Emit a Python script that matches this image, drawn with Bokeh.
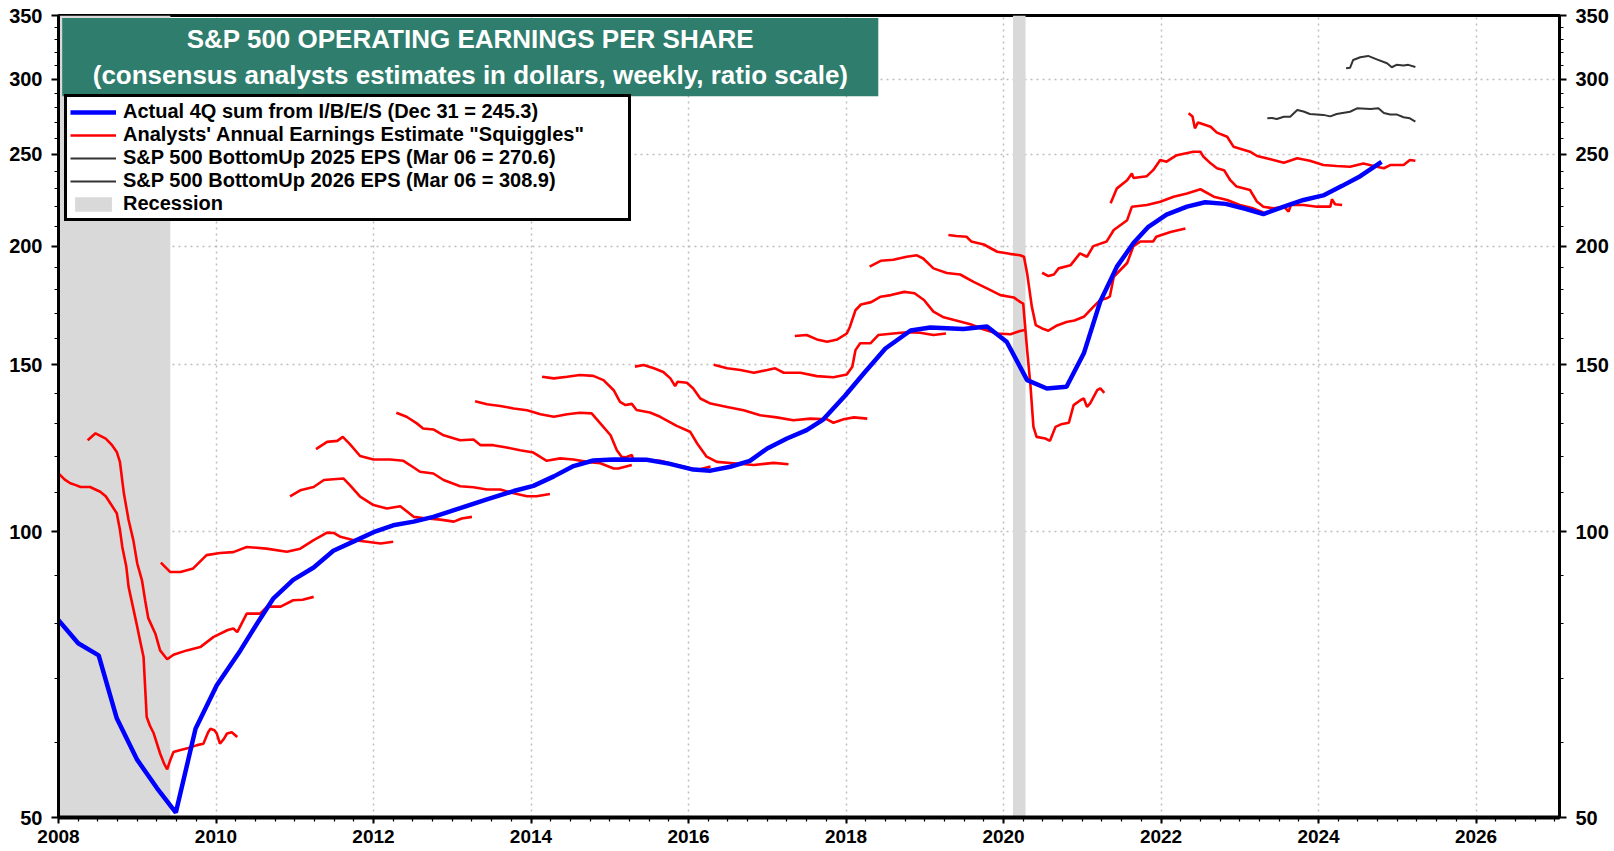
from bokeh.plotting import figure
from bokeh.models import (Range1d, FixedTicker, LogAxis, PrintfTickFormatter,
                          BoxAnnotation, Label, Legend, LegendItem)
from bokeh.embed import file_html
from bokeh.resources import INLINE

FONT = "Liberation Sans"

# ---------------- data ----------------
x_ticks = [2008, 2010, 2012, 2014, 2016, 2018, 2020, 2022, 2024, 2026]
y_ticks = [50, 100, 150, 200, 250, 300, 350]

rec_start = [2007.92, 2020.12]
rec_end = [2009.42, 2020.28]

act_t = [2008.00, 2008.25, 2008.51, 2008.74, 2009.00, 2009.25, 2009.49, 2009.74, 2010.01, 2010.31,
         2010.52, 2010.73, 2010.98, 2011.24, 2011.49, 2011.75, 2012.00, 2012.25, 2012.51, 2012.76,
         2013.10, 2013.44, 2013.78, 2014.03, 2014.29, 2014.54, 2014.79, 2015.05, 2015.47, 2015.75,
         2016.06, 2016.28, 2016.53, 2016.78, 2017.00, 2017.25, 2017.50, 2017.71, 2017.99, 2018.23,
         2018.50, 2018.82, 2019.07, 2019.49, 2019.79, 2020.04, 2020.30, 2020.55, 2020.80, 2021.02,
         2021.23, 2021.44, 2021.65, 2021.84, 2022.07, 2022.33, 2022.56, 2022.82, 2023.07, 2023.30,
         2023.56, 2023.81, 2024.06, 2024.30, 2024.53, 2024.80]
act_v = [80.7, 76.3, 74.1, 63.6, 57.5, 53.7, 50.6, 62.0, 68.9, 75.0,
         80.0, 85.1, 89.0, 91.7, 95.5, 97.7, 99.9, 101.6, 102.5, 103.7,
         105.9, 108.2, 110.4, 111.8, 114.4, 117.3, 118.9, 119.2, 119.1, 118.0,
         116.3, 116.0, 117.1, 118.8, 122.4, 125.4, 128.0, 131.3, 139.2, 147.0,
         156.0, 163.0, 164.2, 163.6, 164.6, 158.6, 144.5, 141.6, 142.2, 154.2,
         175.0, 190.3, 201.5, 209.6, 215.9, 220.1, 222.5, 221.6, 219.0, 216.2,
         220.1, 223.7, 226.2, 231.5, 237.0, 245.4]

est_2009_t = [2008.00, 2008.08, 2008.15, 2008.22, 2008.28, 2008.40, 2008.53, 2008.60, 2008.66, 2008.74,
              2008.78, 2008.81, 2008.86, 2008.89, 2008.95, 2009.00, 2009.04, 2009.08, 2009.12, 2009.16,
              2009.21, 2009.29, 2009.34, 2009.38, 2009.42, 2009.46, 2009.55, 2009.65, 2009.76, 2009.84,
              2009.90, 2009.93, 2009.98, 2010.01, 2010.05, 2010.10, 2010.14, 2010.20, 2010.27]
est_2009_v = [115.2, 113.5, 112.5, 112.0, 111.5, 111.5, 110.2, 109.0, 107.1, 104.6,
              100.5, 96.4, 92.0, 87.5, 83.0, 79.4, 76.5, 73.8, 63.8, 62.5,
              61.3, 58.4, 57.0, 56.2, 57.5, 58.6, 58.9, 59.2, 59.6, 59.8,
              61.5, 62.0, 61.8, 61.3, 59.8, 60.5, 61.3, 61.5, 60.8]

est_2010_t = [2008.37, 2008.47, 2008.60, 2008.68, 2008.74, 2008.78, 2008.83, 2008.89, 2008.95, 2009.00,
              2009.06, 2009.10, 2009.14, 2009.23, 2009.29, 2009.38, 2009.46, 2009.63, 2009.80, 2009.97,
              2010.15, 2010.22, 2010.27, 2010.39, 2010.56, 2010.65, 2010.82, 2010.98, 2011.10, 2011.24]
est_2010_v = [124.9, 127.0, 125.4, 123.4, 121.4, 118.5, 109.8, 102.9, 98.0, 92.6,
              88.9, 84.7, 81.1, 78.1, 75.0, 73.4, 74.2, 75.0, 75.6, 77.5,
              78.8, 79.1, 78.4, 82.0, 82.0, 83.4, 83.4, 84.7, 84.8, 85.4]

est_2011_t = [2009.30, 2009.42, 2009.55, 2009.71, 2009.88, 2010.05, 2010.22, 2010.39, 2010.64, 2010.90,
              2011.07, 2011.24, 2011.41, 2011.50, 2011.58, 2011.75, 2011.92, 2012.09, 2012.25]
est_2011_v = [92.8, 90.7, 90.7, 91.5, 94.5, 95.0, 95.2, 96.4, 96.0, 95.3,
              96.0, 98.0, 99.8, 99.7, 98.8, 98.0, 97.6, 97.2, 97.6]

est_2012_t = [2010.94, 2011.07, 2011.24, 2011.37, 2011.49, 2011.62, 2011.70, 2011.83, 2012.00, 2012.17,
              2012.34, 2012.51, 2012.68, 2012.85, 2013.02, 2013.12, 2013.25]
est_2012_v = [109.0, 110.6, 111.5, 113.4, 113.6, 113.8, 112.0, 108.9, 106.7, 105.8,
              106.4, 103.7, 103.3, 103.0, 102.5, 103.3, 103.7]

est_2013_t = [2011.27, 2011.41, 2011.54, 2011.61, 2011.70, 2011.83, 2012.00, 2012.21, 2012.38, 2012.51,
              2012.59, 2012.76, 2012.89, 2013.10, 2013.27, 2013.44, 2013.61, 2013.78, 2013.95, 2014.07,
              2014.24]
est_2013_v = [122.2, 124.4, 124.7, 125.9, 123.7, 120.2, 119.2, 119.2, 118.8, 116.9,
              115.7, 115.2, 113.4, 111.7, 111.4, 110.8, 110.8, 109.8, 109.0, 109.0,
              109.6]

est_2014_t = [2012.29, 2012.42, 2012.55, 2012.63, 2012.76, 2012.89, 2013.10, 2013.27, 2013.36, 2013.52,
              2013.69, 2013.86, 2014.03, 2014.20, 2014.37, 2014.54, 2014.71, 2014.88, 2015.05, 2015.11,
              2015.28]
est_2014_v = [133.5, 132.2, 130.1, 128.5, 128.2, 126.4, 124.9, 125.1, 123.4, 123.4,
              122.7, 121.9, 121.2, 118.8, 119.5, 119.2, 118.5, 118.1, 116.6, 116.6,
              117.6]

est_2015_t = [2013.29, 2013.44, 2013.61, 2013.78, 2013.95, 2014.12, 2014.29, 2014.46, 2014.62, 2014.77,
              2014.88, 2015.01, 2015.09, 2015.15, 2015.20, 2015.28, 2015.30, 2015.47, 2015.64, 2015.81,
              2015.98, 2016.11, 2016.28]
est_2015_v = [137.3, 136.3, 135.7, 134.9, 134.3, 133.0, 132.2, 133.0, 133.5, 133.3,
              130.1, 126.4, 121.9, 120.0, 119.8, 120.5, 119.0, 119.0, 118.8, 117.8,
              116.9, 116.2, 117.2]

est_2016_t = [2014.14, 2014.29, 2014.46, 2014.62, 2014.79, 2014.92, 2015.05, 2015.13, 2015.20, 2015.28,
              2015.34, 2015.51, 2015.64, 2015.85, 2016.02, 2016.11, 2016.23, 2016.36, 2016.57, 2016.83,
              2017.08, 2017.27]
est_2016_v = [145.7, 145.1, 145.7, 146.3, 146.0, 144.5, 141.0, 137.1, 136.0, 136.4,
              134.4, 133.6, 132.2, 129.3, 127.5, 123.9, 120.0, 118.5, 118.1, 117.6,
              118.2, 117.8]

est_2017_t = [2015.32, 2015.43, 2015.56, 2015.68, 2015.77, 2015.83, 2015.86, 2015.98, 2016.06, 2016.15,
              2016.28, 2016.49, 2016.70, 2016.91, 2017.12, 2017.33, 2017.55, 2017.76, 2017.84, 2017.97,
              2018.10, 2018.27]
est_2017_v = [149.3, 149.9, 148.7, 147.4, 145.1, 142.4, 143.9, 143.6, 141.6, 138.2,
              136.5, 135.4, 134.3, 132.7, 132.0, 131.1, 131.6, 131.4, 130.3, 131.4,
              132.0, 131.6]

est_2018_t = [2016.32, 2016.49, 2016.66, 2016.83, 2017.00, 2017.10, 2017.21, 2017.42, 2017.63, 2017.84,
              2018.01, 2018.08, 2018.12, 2018.18, 2018.31, 2018.41, 2018.60, 2018.77, 2018.94, 2019.11,
              2019.27]
est_2018_v = [150.0, 148.7, 148.1, 147.1, 148.1, 148.7, 147.1, 147.1, 145.9, 145.5,
              146.5, 149.3, 155.4, 158.0, 158.0, 161.2, 161.8, 162.3, 162.1, 161.2,
              161.8]

est_2019_t = [2017.35, 2017.50, 2017.63, 2017.76, 2017.89, 2018.01, 2018.05, 2018.12, 2018.19, 2018.32,
              2018.44, 2018.57, 2018.74, 2018.87, 2018.99, 2019.11, 2019.24, 2019.41, 2019.58, 2019.75,
              2019.92, 2020.09, 2020.21, 2020.27]
est_2019_v = [160.8, 161.2, 159.5, 158.6, 159.5, 161.8, 164.5, 171.2, 173.6, 174.6,
              176.9, 177.6, 179.0, 178.4, 175.5, 170.6, 168.3, 166.9, 165.5, 163.4,
              161.8, 161.5, 162.8, 163.2]

est_2020_t = [2018.30, 2018.44, 2018.60, 2018.77, 2018.90, 2018.98, 2019.11, 2019.28, 2019.45, 2019.62,
              2019.79, 2019.96, 2020.13, 2020.21, 2020.25, 2020.30, 2020.34, 2020.38, 2020.42, 2020.53,
              2020.59, 2020.66, 2020.73, 2020.83, 2020.89, 2020.98, 2021.02, 2021.06, 2021.10, 2021.19,
              2021.23, 2021.28]
est_2020_v = [190.3, 193.0, 193.5, 194.9, 195.6, 194.1, 189.5, 187.4, 186.7, 183.4,
              180.5, 177.6, 176.6, 174.7, 174.0, 155.4, 143.4, 129.0, 125.9, 125.4,
              124.7, 129.0, 129.8, 130.3, 136.0, 137.7, 138.2, 135.4, 136.6, 141.0,
              141.6, 140.1]

est_2021_t = [2019.30, 2019.40, 2019.53, 2019.59, 2019.75, 2019.92, 2020.08, 2020.21, 2020.26, 2020.30,
              2020.36, 2020.41, 2020.49, 2020.57, 2020.68, 2020.80, 2020.90, 2021.02, 2021.14, 2021.23,
              2021.31, 2021.35, 2021.40, 2021.57, 2021.65, 2021.74, 2021.90, 2021.94, 2022.12, 2022.31]
est_2021_v = [205.5, 205.0, 204.6, 202.3, 200.8, 197.3, 196.3, 195.6, 194.9, 187.2,
              172.6, 165.1, 163.8, 162.9, 165.0, 166.4, 167.0, 168.5, 172.6, 175.5,
              176.2, 177.0, 185.7, 192.0, 200.0, 202.3, 202.3, 204.6, 207.0, 208.8]

est_2022_t = [2020.49, 2020.57, 2020.64, 2020.70, 2020.85, 2020.97, 2021.06, 2021.14, 2021.31, 2021.40,
              2021.57, 2021.63, 2021.82, 2021.99, 2022.16, 2022.33, 2022.50, 2022.67, 2022.84, 2023.00,
              2023.17, 2023.30]
est_2022_v = [187.5, 186.0, 186.7, 189.5, 190.9, 196.5, 194.9, 200.0, 202.3, 208.0,
              213.0, 220.1, 221.0, 222.7, 225.5, 227.3, 229.6, 225.5, 223.7, 221.0,
              219.2, 217.0]

est_2023_t = [2021.36, 2021.44, 2021.57, 2021.63, 2021.65, 2021.82, 2021.90, 2021.99, 2022.07, 2022.20,
              2022.41, 2022.50, 2022.54, 2022.63, 2022.71, 2022.80, 2022.88, 2022.96, 2023.13, 2023.22,
              2023.30, 2023.43, 2023.56, 2023.62, 2023.65, 2023.81, 2023.98, 2024.15, 2024.17, 2024.21,
              2024.30]
est_2023_v = [221.9, 230.1, 234.7, 238.6, 236.0, 237.0, 240.5, 246.5, 245.5, 249.4,
              251.5, 251.5, 248.4, 244.5, 241.6, 240.5, 234.7, 231.1, 229.2, 222.7,
              220.1, 219.2, 220.1, 217.5, 221.0, 221.0, 220.1, 220.1, 224.1, 221.4,
              221.0]

est_2024_t = [2022.35, 2022.40, 2022.43, 2022.47, 2022.63, 2022.71, 2022.84, 2022.92, 2023.13, 2023.22,
              2023.39, 2023.56, 2023.73, 2023.89, 2024.06, 2024.23, 2024.40, 2024.57, 2024.74, 2024.83,
              2024.91, 2025.08, 2025.16, 2025.23]
est_2024_v = [276.1, 274.0, 266.2, 270.0, 267.2, 263.4, 260.8, 254.6, 251.5, 248.9,
              246.9, 244.9, 247.5, 246.0, 243.5, 242.9, 242.5, 244.4, 242.5, 241.6,
              243.5, 243.5, 246.5, 246.0]

bu_2025_t = [2023.35, 2023.41, 2023.47, 2023.56, 2023.64, 2023.73, 2023.81, 2023.89, 2024.06, 2024.15,
             2024.23, 2024.40, 2024.49, 2024.66, 2024.76, 2024.83, 2024.91, 2024.99, 2025.08, 2025.16,
             2025.23]
bu_2025_v = [272.7, 273.0, 272.3, 273.8, 273.8, 278.3, 277.3, 275.6, 275.0, 274.0,
             275.6, 277.1, 279.4, 279.0, 279.4, 276.2, 275.3, 275.3, 273.4, 272.7,
             270.6]

bu_2026_t = [2024.35, 2024.40, 2024.44, 2024.53, 2024.63, 2024.74, 2024.87, 2024.93, 2024.99, 2025.08,
             2025.14, 2025.23]
bu_2026_v = [307.9, 308.3, 314.2, 316.3, 317.3, 314.7, 311.7, 308.7, 310.5, 310.0,
             310.5, 308.9]

squiggles = [(est_2009_t, est_2009_v), (est_2010_t, est_2010_v), (est_2011_t, est_2011_v),
             (est_2012_t, est_2012_v), (est_2013_t, est_2013_v), (est_2014_t, est_2014_v),
             (est_2015_t, est_2015_v), (est_2016_t, est_2016_v), (est_2017_t, est_2017_v),
             (est_2018_t, est_2018_v), (est_2019_t, est_2019_v), (est_2020_t, est_2020_v),
             (est_2021_t, est_2021_v), (est_2022_t, est_2022_v), (est_2023_t, est_2023_v),
             (est_2024_t, est_2024_v)]

title_1 = "S&P 500 OPERATING EARNINGS PER SHARE"
title_2 = "(consensus analysts estimates in dollars, weekly, ratio scale)"
leg_labels = ["Actual 4Q sum from I/B/E/S (Dec 31 = 245.3)",
              "Analysts' Annual Earnings Estimate \"Squiggles\"",
              "S&P 500 BottomUp 2025 EPS (Mar 06 = 270.6)",
              "S&P 500 BottomUp 2026 EPS (Mar 06 = 308.9)",
              "Recession"]

# ---------------- figure ----------------
p = figure(width=1614, height=851, y_axis_type="log",
           x_range=Range1d(2008, 2027.06), y_range=Range1d(50, 350),
           output_backend="svg", toolbar_location=None,
           min_border_left=58, min_border_right=55, min_border_top=15, min_border_bottom=34)
p.outline_line_color = "black"
p.outline_line_width = 3
p.background_fill_color = "white"
p.border_fill_color = "white"

rec_r = p.quad(left=rec_start, right=rec_end, bottom=50, top=350,
               fill_color="#d9d9d9", line_color=None)

red_rs = []
for t, v in squiggles:
    red_rs.append(p.line(t, v, line_color="#ff0000", line_width=2.6))
bu25_r = p.line(bu_2025_t, bu_2025_v, line_color="#333333", line_width=2)
bu26_r = p.line(bu_2026_t, bu_2026_v, line_color="#333333", line_width=2)
act_r = p.line(act_t, act_v, line_color="#0000ff", line_width=4.5)

# ---------------- axes ----------------
y_minor = [v for v in range(60, 350, 10) if v not in y_ticks]
x_minor = [2008 + q * 0.25 for q in range(0, 77)]


def style_axis(ax, standoff, size):
    ax.major_label_text_font = FONT
    ax.major_label_text_font_style = "bold"
    ax.major_label_text_font_size = size
    ax.major_label_text_color = "black"
    ax.major_label_standoff = standoff
    ax.axis_line_color = "black"
    ax.axis_line_width = 3
    ax.major_tick_line_color = "black"
    ax.major_tick_line_width = 2
    ax.major_tick_in = 0
    ax.major_tick_out = 7
    ax.minor_tick_line_color = "black"
    ax.minor_tick_line_width = 1.2
    ax.minor_tick_in = 0
    ax.minor_tick_out = 4


p.yaxis.ticker = FixedTicker(ticks=y_ticks, minor_ticks=y_minor)
p.yaxis.formatter = PrintfTickFormatter(format="%d")
style_axis(p.yaxis[0], 9, "20px")

right_ax = LogAxis(ticker=FixedTicker(ticks=y_ticks, minor_ticks=y_minor),
                   formatter=PrintfTickFormatter(format="%d"))
style_axis(right_ax, 9, "20px")
p.add_layout(right_ax, "right")

p.xaxis.ticker = FixedTicker(ticks=x_ticks, minor_ticks=x_minor)
p.xaxis.formatter = PrintfTickFormatter(format="%d")
style_axis(p.xaxis[0], 6, "19px")
p.xaxis.axis_line_width = 4
p.xaxis.major_tick_out = 6

p.grid.grid_line_color = "#bdbdbd"
p.grid.grid_line_dash = "2 4"
p.grid.grid_line_width = 1.5
p.grid.minor_grid_line_color = None

# ---------------- title box ----------------
p.add_layout(BoxAnnotation(left=2008.047, right=2018.41, bottom=287.8, top=347.9,
                           fill_color="#2e7d6d", fill_alpha=1.0, line_color=None))
for txt, yy in [(title_1, 330.6), (title_2, 302.9)]:
    p.add_layout(Label(x=2013.23, y=yy, text=txt, text_align="center", text_baseline="middle",
                       text_color="white", text_font=FONT, text_font_style="bold",
                       text_font_size="26px"))

# ---------------- legend ----------------
legend = Legend(items=[LegendItem(label=leg_labels[0], renderers=[act_r]),
                       LegendItem(label=leg_labels[1], renderers=[red_rs[0]]),
                       LegendItem(label=leg_labels[2], renderers=[bu25_r]),
                       LegendItem(label=leg_labels[3], renderers=[bu26_r]),
                       LegendItem(label=leg_labels[4], renderers=[rec_r])],
                location=(6, 596), orientation="vertical",
                border_line_color="black", border_line_width=3, border_line_alpha=1.0,
                background_fill_color="white", background_fill_alpha=1.0,
                label_text_font=FONT, label_text_font_style="bold",
                label_text_font_size="20px", label_text_color="black",
                glyph_width=46, glyph_height=18, label_height=21, label_width=502,
                spacing=0, padding=3, margin=0, label_standoff=7)
p.add_layout(legend)

open("out.html", "w").write(file_html(p, INLINE))
